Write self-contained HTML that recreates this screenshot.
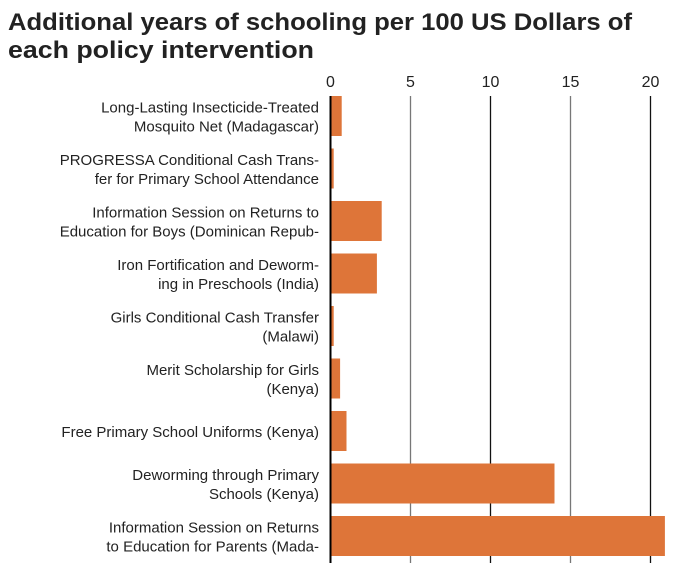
<!DOCTYPE html>
<html><head><meta charset="utf-8"><style>
body{margin:0;background:#fff;width:675px;height:563px;overflow:hidden;font-family:"Liberation Sans",sans-serif}
</style></head><body>
<svg width="675" height="563">
<text x="8" y="30" font-size="24" font-weight="bold" fill="#222" textLength="624" lengthAdjust="spacingAndGlyphs">Additional years of schooling per 100 US Dollars of</text>
<text x="8" y="58" font-size="24" font-weight="bold" fill="#222" textLength="306" lengthAdjust="spacingAndGlyphs">each policy intervention</text>
<g id="g"></g>
</svg>
<script>
const categories=[
["Long-Lasting Insecticide-Treated","Mosquito Net (Madagascar)"],
["PROGRESSA Conditional Cash Trans-","fer for Primary School Attendance"],
["Information Session on Returns to","Education for Boys (Dominican Repub-"],
["Iron Fortification and Deworm-","ing in Preschools (India)"],
["Girls Conditional Cash Transfer","(Malawi)"],
["Merit Scholarship for Girls","(Kenya)"],
["Free Primary School Uniforms (Kenya)"],
["Deworming through Primary","Schools (Kenya)"],
["Information Session on Returns","to Education for Parents (Mada-"]];
const values=[0.7,0.2,3.2,2.9,0.2,0.6,1.0,14.0,20.9];
const ticks=[0,5,10,15,20];
const NS="http://www.w3.org/2000/svg",g=document.getElementById('g');
const x=v=>330.5+v*16, y0=90, band=52.5;
function el(t,a){const e=document.createElementNS(NS,t);for(const k in a)e.setAttribute(k,a[k]);g.appendChild(e);return e;}
ticks.forEach((t,i)=>{
 if(i>0){const l=el('line',{x1:x(t),x2:x(t),y1:96,y2:563,stroke:i%2?'#777':'#111','stroke-width':1.3});
 
 }
 const tx=el('text',{x:x(t),y:87,'font-size':16,'text-anchor':'middle',fill:'#222'});tx.textContent=t;
 
 
});
values.forEach((v,i)=>{
 const top=y0+i*band+6;
 const r=el('rect',{x:x(0),y:top,width:x(v)-x(0),height:40,fill:'#de7539'});
 
 
 const lines=categories[i],c=top+20;
 lines.forEach((s,j)=>{
  const ty=c+6+(j-(lines.length-1)/2)*19;
  const t=el('text',{x:319,y:ty,'font-size':15,'text-anchor':'end',fill:'#222'});t.textContent=s;
  
  
 });
});
const ax=el('line',{x1:x(0),x2:x(0),y1:96,y2:563,stroke:'#000','stroke-width':2});


</script>
</body></html>
